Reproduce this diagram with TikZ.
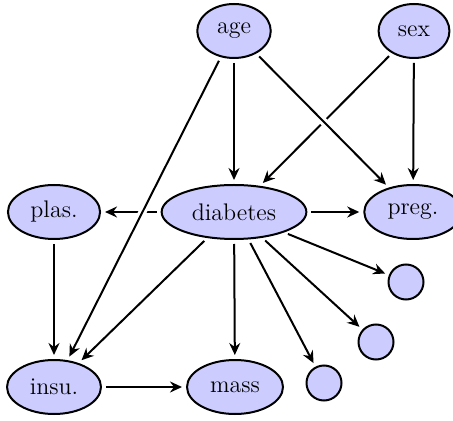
\documentclass[tikz,border=0pt]{standalone}
\usepackage{tikz}
\usetikzlibrary{shapes}
\usetikzlibrary{arrows.meta}

\tikzset{
  var/.style={ellipse, draw, line width=1pt, fill=blue!20, inner xsep=4.5pt, inner ysep=3pt,
    minimum height=27pt, font=\fontsize{12}{14}\selectfont},
  hidden/.style={circle, draw, line width=1pt, fill=blue!20, minimum size=17.5pt, inner sep=0pt},
  edge/.style={-{Stealth[length=6pt, width=5.5pt, inset=2pt]}, line width=1pt, shorten >=2pt, shorten <=2pt},
  over/.style={preaction={draw=white, line width=4pt, -}}
}

\begin{document}
\begin{tikzpicture}[x=0.5pt, y=-0.5pt]
      \useasboundingbox (0,0) rectangle (453,421);

      % variables
      \node[var] (age)  at (234, 31) {age};
      \node[var] (sex)  at (414, 31) {sex};
      \node[var] (diab) at (234,212) {diabetes};
      \node[var] (plas) at ( 54,212) {plas.};
      \node[var] (preg) at (413,212) {preg.};
      \node[var] (insu) at ( 54,387) {insu.};
      \node[var] (mass) at (235,387) {mass};

      % unnamed children
      \node[hidden] (h1) at (406,282) {};
      \node[hidden] (h2) at (376,342) {};
      \node[hidden] (h3) at (324,383) {};

      % edges
      \draw[edge] (age) -- (diab);
      \draw[edge] (sex) -- (preg);
      \draw[edge] (sex) -- (diab);
      \draw[edge,over] (age) -- (preg);
      \draw[edge] (diab) -- (plas);
      \draw[edge,over] (age) -- (insu);
      \draw[edge] (diab) -- (preg);
      \draw[edge] (diab) -- (insu);
      \draw[edge] (diab) -- (mass);
      \draw[edge] (diab) -- (h1);
      \draw[edge] (diab) -- (h2);
      \draw[edge] (diab) -- (h3);
      \draw[edge] (plas) -- (insu);
      \draw[edge] (insu) -- (mass);
\end{tikzpicture}
\end{document}
